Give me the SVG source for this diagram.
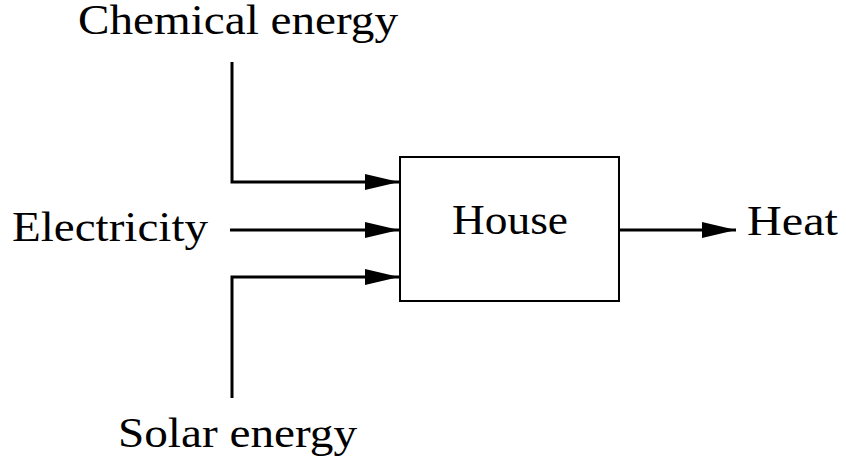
<svg xmlns="http://www.w3.org/2000/svg" width="846" height="465" viewBox="0 0 846 465">
  <style>
    .lbl { font-family: "Liberation Serif", "Times New Roman", serif; font-size: 42px; fill: #000; }
    .wire { fill: none; stroke: #000; stroke-width: 3; }
    .box { fill: #fff; stroke: #000; stroke-width: 2; }
  </style>
  <defs>
    <marker id="arrow" markerUnits="userSpaceOnUse" markerWidth="34" markerHeight="18" viewBox="0 0 34 18" refX="34" refY="9" orient="auto">
      <path d="M0,1 L34,9 L0,17 Z" fill="#000"/>
    </marker>
  </defs>
  <rect width="846" height="465" fill="#fff"/>

  <g id="connectors">
    <path class="wire" d="M232,62 V182 H399" marker-end="url(#arrow)"/>
    <path class="wire" d="M230,230 H399" marker-end="url(#arrow)"/>
    <path class="wire" d="M232,398 V277 H399" marker-end="url(#arrow)"/>
    <path class="wire" d="M619,230 H736" marker-end="url(#arrow)"/>
  </g>

  <g id="house">
    <rect class="box" x="400" y="157" width="219" height="144"/>
    <text class="lbl" x="452" y="234" textLength="116" lengthAdjust="spacingAndGlyphs">House</text>
  </g>
  <g id="chemical-energy">
    <text class="lbl" x="78" y="34" textLength="320" lengthAdjust="spacingAndGlyphs">Chemical energy</text>
  </g>
  <g id="electricity">
    <text class="lbl" x="12" y="241" textLength="196" lengthAdjust="spacingAndGlyphs">Electricity</text>
  </g>
  <g id="solar-energy">
    <text class="lbl" x="118" y="447" textLength="239" lengthAdjust="spacingAndGlyphs">Solar energy</text>
  </g>
  <g id="heat">
    <text class="lbl" x="747" y="235" textLength="91" lengthAdjust="spacingAndGlyphs">Heat</text>
  </g>
</svg>
